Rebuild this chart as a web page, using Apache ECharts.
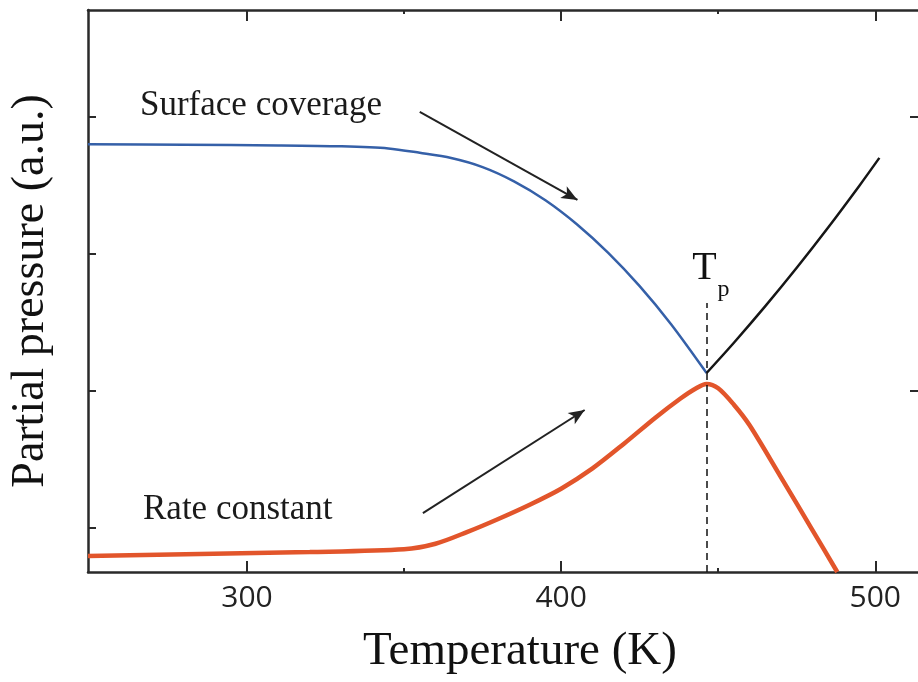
<!DOCTYPE html>
<html><head><meta charset="utf-8">
<script src="https://cdn.jsdelivr.net/npm/echarts@6/dist/echarts.min.js"></script>
<style>html,body{margin:0;padding:0;background:#fff}#c{width:918px;height:682px}</style>
</head><body><div id="c"></div>
<script>
// ---- axis ranges & ticks ----
const xMin = 249.4, xMax = 513.6;
const yMin = 0.679, yMax = 4.78;
const xMajorTicks = [300, 400, 500];
const xMinorTicks = [350, 450];
const yLeftTicks = [1, 2, 3, 4];
const yRightTicks = [2, 4];

// ---- Surface coverage (blue) ----
const coverageT = [249.4, 280, 310, 330, 345, 355, 365, 375, 385, 395, 405, 415, 425, 435, 446.3];
const coverageP = [3.800, 3.797, 3.792, 3.785, 3.770, 3.738, 3.700, 3.634, 3.530, 3.392, 3.217, 3.008, 2.765, 2.487, 2.131];

// ---- Rate constant continuation (black) ----
const rateUpT = [446.3, 455, 465, 475, 485, 495, 501.3];
const rateUpP = [2.131, 2.352, 2.619, 2.899, 3.193, 3.500, 3.701];

// ---- Desorption rate / partial pressure (orange) ----
const pressureT = [249.4, 320, 350, 360, 370, 380, 390, 400, 410, 420, 430, 438, 443, 446.3, 450, 455, 460, 470, 480, 487.9];
const pressureP = [0.796, 0.825, 0.845, 0.885, 0.970, 1.066, 1.170, 1.287, 1.435, 1.615, 1.805, 1.945, 2.020, 2.051, 2.020, 1.900, 1.750, 1.370, 0.985, 0.679];

// ---- annotations ----
const Tp = 446.3;
const tpLineTop = 2.642;
const arrowCoverage = [[355, 4.036], [405.2, 3.394]];
const arrowRate = [[356, 1.109], [407.5, 1.861]];

const zip = (a, b) => a.map((v, i) => [v, b[i]]);
const serif = 'Liberation Serif';
const axisColor = '#2a2a2a';

const chart = echarts.init(document.getElementById('c'), null, {renderer: 'canvas'});

function xAx(grid, pos, ticks, len, showLine, opts) {
  return Object.assign({
    type: 'value', gridIndex: grid, position: pos, min: xMin, max: xMax,
    axisLine: {show: showLine, onZero: false, lineStyle: {color: axisColor, width: 2.5}},
    axisTick: {show: true, inside: true, length: len, customValues: ticks, lineStyle: {color: axisColor, width: 2}},
    axisLabel: {show: false}, splitLine: {show: false}
  }, opts || {});
}
function yAx(grid, pos, ticks, len, showLine, opts) {
  return Object.assign({
    type: 'value', gridIndex: grid, position: pos, min: yMin, max: yMax,
    axisLine: {show: showLine, onZero: false, lineStyle: {color: axisColor, width: 2.5}},
    axisTick: {show: ticks.length > 0, inside: true, length: len, customValues: ticks, lineStyle: {color: axisColor, width: 2}},
    axisLabel: {show: false}, splitLine: {show: false}
  }, opts || {});
}

const option = {
  animation: false,
  backgroundColor: '#fff',
  grid: [
    {left: 88, top: 10, right: -1, bottom: 110},
    {left: 88, top: 10, right: -1, bottom: 110}
  ],
  xAxis: [
    xAx(0, 'bottom', xMajorTicks, 11, true, {
      axisLabel: {show: true, customValues: xMajorTicks, fontFamily: 'Open Sans', fontSize: 30, color: '#222', margin: 11},
      name: 'Temperature (K)', nameLocation: 'middle', nameGap: 56,
      nameTextStyle: {fontFamily: serif, fontSize: 47, color: '#111', padding: [0, 0, 0, 34]}
    }),
    xAx(0, 'top', xMajorTicks, 11, true),
    xAx(1, 'bottom', xMinorTicks, 4, false),
    xAx(1, 'top', xMinorTicks, 4, false)
  ],
  yAxis: [
    yAx(0, 'left', yLeftTicks, 8, true, {
      name: 'Partial pressure (a.u.)', nameLocation: 'middle', nameGap: 34,
      nameTextStyle: {fontFamily: serif, fontSize: 46, color: '#111'}
    }),
    yAx(0, 'right', yRightTicks, 8, false),
    yAx(1, 'left', [], 0, false),
    yAx(1, 'right', [], 0, false)
  ],
  series: [
    {
      name: 'Surface coverage', type: 'line', xAxisIndex: 0, yAxisIndex: 0,
      data: zip(coverageT, coverageP), showSymbol: false, smooth: 0.3,
      lineStyle: {color: '#3560a8', width: 2.5}, z: 3
    },
    {
      name: 'Rate up', type: 'line', xAxisIndex: 0, yAxisIndex: 0,
      data: zip(rateUpT, rateUpP), showSymbol: false, smooth: 0.3,
      lineStyle: {color: '#161616', width: 2.5}, z: 3,
      markLine: {
        silent: true, animation: false, symbol: ['none', 'arrow'], symbolSize: [10, 16],
        label: {show: false},
        lineStyle: {color: '#222', width: 2, type: 'solid'},
        data: [
          [{coord: arrowCoverage[0]}, {coord: arrowCoverage[1]}],
          [{coord: arrowRate[0]}, {coord: arrowRate[1]}]
        ]
      }
    },
    {
      name: 'Rate constant', type: 'line', xAxisIndex: 0, yAxisIndex: 0,
      data: zip(pressureT, pressureP), showSymbol: false, smooth: 0.3,
      lineStyle: {color: '#e2552b', width: 4.5}, z: 2,
      markLine: {
        silent: true, animation: false, symbol: ['none', 'none'],
        label: {show: false},
        lineStyle: {color: '#111', width: 1.5, type: [7, 5]},
        data: [[{coord: [Tp, yMin]}, {coord: [Tp, tpLineTop]}]]
      }
    }
  ]
};
chart.setOption(option);

const p = chart.convertToPixel({gridIndex: 0}, [Tp, tpLineTop]);
chart.setOption({
  graphic: [
    {type: 'text', left: 140, top: 88, style: {text: 'Surface coverage', font: '35px "Liberation Serif"', fill: '#1a1a1a'}},
    {type: 'text', left: 143, top: 492, style: {text: 'Rate constant', font: '35px "Liberation Serif"', fill: '#1a1a1a'}},
    {type: 'text', x: p[0] - 2, y: p[1] - 34, style: {text: 'T', font: '40px "Liberation Serif"', fill: '#111', align: 'center', verticalAlign: 'middle'}},
    {type: 'text', x: p[0] + 11, y: p[1] - 13, style: {text: 'p', font: '24px "Liberation Serif"', fill: '#111', align: 'left', verticalAlign: 'middle'}}
  ]
});
</script>
</body></html>
